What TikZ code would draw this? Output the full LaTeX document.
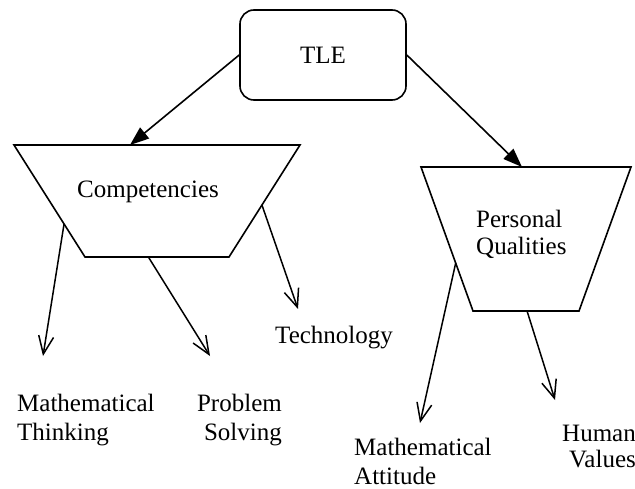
\documentclass[tikz,border=0pt]{standalone}
\usepackage{fontspec}
\setmainfont{Liberation Serif}
\usetikzlibrary{arrows.meta,calc}
\begin{document}
\begin{tikzpicture}[x=1pt,y=-1pt,
  lbl/.style={inner sep=0pt,font=\fontsize{25}{28}\selectfont},
  rootbox/.style={draw,line width=1.6pt,rounded corners=14pt,minimum width=166pt,minimum height=90pt,lbl},
  outline/.style={draw,line width=1.6pt,line join=miter},
  heavy/.style={line width=1.6pt,-{Triangle[length=19pt,width=14pt]}},
  thin/.style={line width=1.5pt,-{Straight Barb[length=18pt,width=15pt]}}]
\useasboundingbox (0,0) rectangle (635,489);

% root
\node[rootbox] (tle) at (323,55) {TLE};

% Competencies trapezoid
\coordinate (c1) at (14,145);
\coordinate (c2) at (300,145);
\coordinate (c3) at (229,257);
\coordinate (c4) at (85,257);
\draw[outline] (c1) -- (c2) -- (c3) -- (c4) -- cycle;
\node[lbl] (comp) at (148,192) {Competencies};

% Personal Qualities trapezoid
\coordinate (p1) at (421,167);
\coordinate (p2) at (631,167);
\coordinate (p3) at (579,311);
\coordinate (p4) at (473,311);
\draw[outline] (p1) -- (p2) -- (p3) -- (p4) -- cycle;
% (the base anchor of a multi-line node sits on its last line)
\node[lbl,anchor=base west,align=left] (pq) at (476,255) {Personal\\Qualities};

% arrows from the root
\coordinate (cin) at (130,145);
\coordinate (pin) at (522,167);
\draw[heavy] (tle.west) -- (cin);
\draw[heavy] (tle.east) -- (pin);

% leaf labels
\node[lbl,anchor=base west] (tech) at (275,343) {Technology};
\node[lbl,anchor=base west,align=left] (mt) at (17,440) {Mathematical\\[1pt]Thinking};
\node[lbl,anchor=base east,align=right] (ps) at (282,440) {Problem\\[1pt]Solving};
\node[lbl,anchor=base west,align=left] (ma) at (354,484) {Mathematical\\[1pt]Attitude};
\node[lbl,anchor=base east,align=right] (hv) at (636,467) {Human\\[-2pt]Values};

% arrow tips above the leaf labels
\coordinate (mtTip) at (43,356);
\coordinate (psTip) at (210,356);
\coordinate (techTip) at (298,309);
\coordinate (maTip) at (420,423);
\coordinate (hvTip) at (555,400);

% arrows from the trapezoids
\draw[thin] ($(c1)!0.705!(c4)$) -- (mtTip);
\draw[thin] ($(c4)!0.44!(c3)$) -- (psTip);
\draw[thin] ($(c2)!0.536!(c3)$) -- (techTip);
\draw[thin] ($(p1)!0.667!(p4)$) -- (maTip);
\draw[thin] ($(p4)!0.51!(p3)$) -- (hvTip);
\end{tikzpicture}
\end{document}
